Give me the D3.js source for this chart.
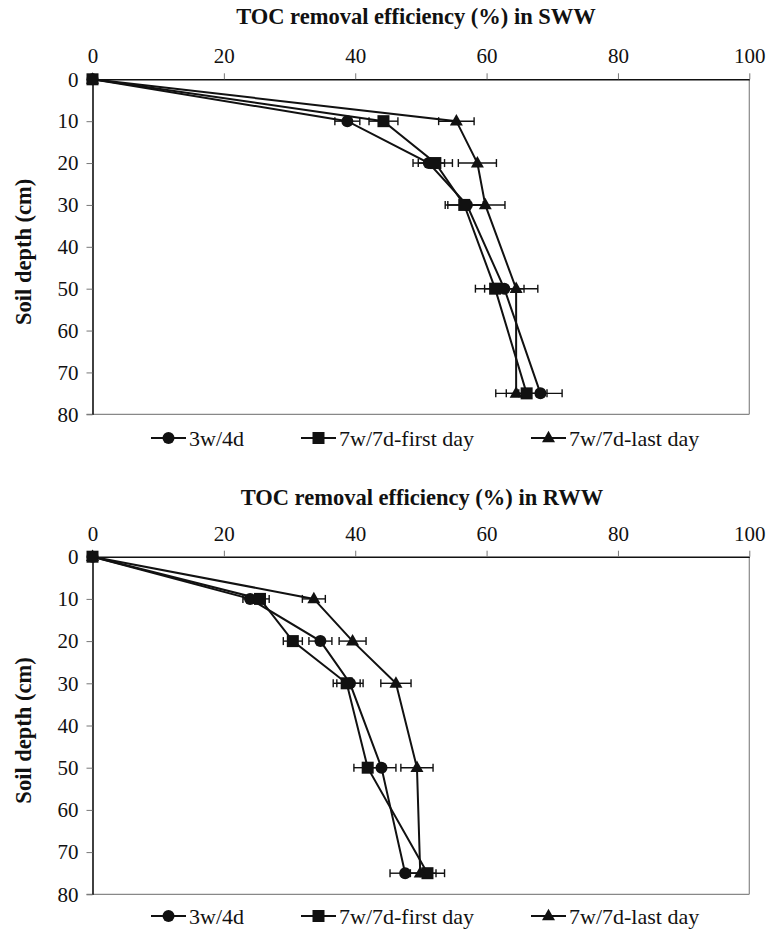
<!DOCTYPE html>
<html>
<head>
<meta charset="utf-8">
<script src="https://cdn.jsdelivr.net/npm/d3@7"></script>
<style>
  html, body { margin: 0; padding: 0; background: #fff; }
</style>
</head>
<body>
<svg id="chart" width="779" height="929"></svg>
<script>
// Soil depths sampled (cm)
const depths = [0, 10, 20, 30, 50, 75];
const seriesNames = ["3w/4d", "7w/7d-first day", "7w/7d-last day"];
const seriesSymbols = ["circle", "square", "triangle"];

// TOC removal efficiency (%) in SWW
const swwMean3w4d   = [0, 38.8, 51.2, 57.0, 62.7, 68.2];
const swwErr3w4d    = [0, 1.9, 2.4, 2.9, 3.0, 3.3];
const swwMeanFirst  = [0, 44.3, 52.2, 56.6, 61.3, 66.1];
const swwErrFirst   = [0, 2.2, 2.6, 2.9, 3.0, 3.1];
const swwMeanLast   = [0, 55.4, 58.6, 59.8, 64.5, 64.5];
const swwErrLast    = [0, 2.7, 2.9, 3.0, 3.3, 3.1];

// TOC removal efficiency (%) in RWW
const rwwMean3w4d   = [0, 24.0, 34.7, 39.2, 44.0, 47.6];
const rwwErr3w4d    = [0, 1.1, 1.75, 2.0, 2.2, 2.3];
const rwwMeanFirst  = [0, 25.5, 30.5, 38.7, 41.9, 51.0];
const rwwErrFirst   = [0, 1.4, 1.45, 2.05, 2.1, 2.6];
const rwwMeanLast   = [0, 33.7, 39.6, 46.2, 49.4, 49.9];
const rwwErrLast    = [0, 1.75, 2.05, 2.3, 2.45, 2.4];

const xTicks = [0, 20, 40, 60, 80, 100];
const yTicks = [0, 10, 20, 30, 40, 50, 60, 70, 80];
const xLabel = "TOC removal efficiency (%)";
const yLabel = "Soil depth (cm)";

const SERIF = '"Liberation Serif"';
const FONT = 21;
const BOLD_SIZE = 22.5;
const X0 = 92.5, X1 = 749.3;

const svg = d3.select("#chart");
svg.append("rect").attr("width", 779).attr("height", 929).attr("fill", "#fff");

function serifText(sel, size, bold) {
  sel.attr("font-family", "Liberation Serif")
    .style("font-family", SERIF)
    .style("font-size", size + "px")
    .style("font-weight", bold ? "bold" : "normal")
    .attr("fill", "#111");
  return sel;
}

function drawMarker(g, kind, cx, cy) {
  if (kind === "circle") {
    g.append("circle").attr("cx", cx).attr("cy", cy).attr("r", 6).attr("fill", "#111");
  } else if (kind === "square") {
    g.append("rect").attr("x", cx - 6).attr("y", cy - 6).attr("width", 12).attr("height", 12).attr("fill", "#111");
  } else {
    const s = 13, h = 11.5;
    g.append("path")
      .attr("d", `M${cx},${cy - h * 0.62}L${cx + s / 2},${cy + h * 0.38}L${cx - s / 2},${cy + h * 0.38}Z`)
      .attr("fill", "#111");
  }
}

function drawPanel(p) {
  const x = d3.scaleLinear().domain([0, 100]).range([X0, X1]);
  const y = d3.scaleLinear().domain([0, 80]).range([p.top, p.bottom]);
  const g = svg.append("g");

  // title
  serifText(g.append("text").attr("x", p.titleX).attr("y", p.titleY)
    .attr("text-anchor", "middle").attr("dominant-baseline", "central"), BOLD_SIZE, true)
    .text(`${xLabel} in ${p.name}`);

  // plot frame (right and bottom)
  g.append("line").attr("x1", X0 - 6).attr("x2", X1).attr("y1", y(80)).attr("y2", y(80))
    .attr("stroke", "#888").attr("stroke-width", 1.2);
  g.append("line").attr("x1", X1).attr("x2", X1).attr("y1", y(0)).attr("y2", y(80))
    .attr("stroke", "#888").attr("stroke-width", 1.2);

  // top x axis
  const xAxis = d3.axisTop(x).tickValues(xTicks).tickSize(6).tickSizeOuter(0).tickPadding(10);
  const gx = g.append("g").attr("transform", `translate(0,${y(0)})`).call(xAxis);
  gx.attr("font-family", null).attr("font-size", null);
  gx.select(".domain").attr("stroke", "#111").attr("stroke-width", 1.6);
  gx.selectAll(".tick line").attr("stroke", "#777");
  serifText(gx.selectAll(".tick text"), FONT, false);

  // left y axis
  const yAxis = d3.axisLeft(y).tickValues(yTicks).tickSize(6).tickSizeOuter(0).tickPadding(8);
  const gy = g.append("g").attr("transform", `translate(${X0},0)`).call(yAxis);
  gy.attr("font-family", null).attr("font-size", null);
  gy.select(".domain").attr("stroke", "#111").attr("stroke-width", 1.6);
  gy.selectAll(".tick line").attr("stroke", "#777");
  serifText(gy.selectAll(".tick text"), FONT, false);

  // y axis title
  serifText(g.append("text")
    .attr("transform", `translate(23,${(y(0) + y(80)) / 2 + 5}) rotate(-90)`)
    .attr("text-anchor", "middle").attr("dominant-baseline", "central"), BOLD_SIZE, true)
    .text(yLabel);

  const line = d3.line().x(d => x(d.v)).y(d => y(d.d));

  p.series.forEach(s => {
    const pts = depths.map((d, j) => ({ d, v: s.mean[j] }));
    g.append("path").datum(pts).attr("d", line)
      .attr("fill", "none").attr("stroke", "#111").attr("stroke-width", 2);
  });

  // horizontal error bars
  p.series.forEach(s => {
    depths.forEach((d, j) => {
      if (s.err[j] <= 0) return;
      const cy = y(d), xl = x(s.mean[j] - s.err[j]), xr = x(s.mean[j] + s.err[j]);
      g.append("line").attr("x1", xl).attr("x2", xr).attr("y1", cy).attr("y2", cy)
        .attr("stroke", "#111").attr("stroke-width", 1.4);
      [xl, xr].forEach(xx => g.append("line").attr("x1", xx).attr("x2", xx)
        .attr("y1", cy - 4).attr("y2", cy + 4).attr("stroke", "#111").attr("stroke-width", 1.4));
    });
  });

  // markers
  p.series.forEach((s, i) => {
    depths.forEach((d, j) => drawMarker(g, seriesSymbols[i], x(s.mean[j]), y(d)));
  });

  // legend
  const legendX = [151, 301, 531];
  seriesNames.forEach((name, i) => {
    const lx = legendX[i], ly = p.legendY;
    g.append("line").attr("x1", lx).attr("x2", lx + 35).attr("y1", ly).attr("y2", ly)
      .attr("stroke", "#111").attr("stroke-width", 2);
    drawMarker(g, seriesSymbols[i], lx + 17.5, ly);
    serifText(g.append("text").attr("x", lx + 38).attr("y", ly)
      .attr("dominant-baseline", "central"), FONT + 1, false)
      .text(name);
  });
}

drawPanel({
  name: "SWW", titleX: 416, titleY: 16, top: 79.3, bottom: 414.3, legendY: 438,
  series: [
    { mean: swwMean3w4d, err: swwErr3w4d },
    { mean: swwMeanFirst, err: swwErrFirst },
    { mean: swwMeanLast, err: swwErrLast }
  ]
});

drawPanel({
  name: "RWW", titleX: 422, titleY: 497, top: 556.7, bottom: 894.3, legendY: 916,
  series: [
    { mean: rwwMean3w4d, err: rwwErr3w4d },
    { mean: rwwMeanFirst, err: rwwErrFirst },
    { mean: rwwMeanLast, err: rwwErrLast }
  ]
});
</script>
</body>
</html>
